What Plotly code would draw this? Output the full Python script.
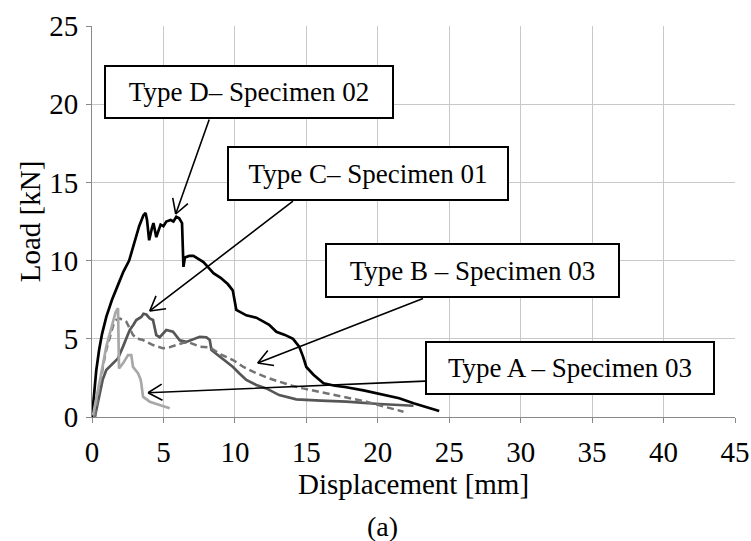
import math
import plotly.graph_objects as go

# ---------------- data ----------------
d_x = [0, 0.15, 0.3, 0.5, 0.7, 1.0, 1.4, 1.8, 2.2, 2.6, 3.0, 3.3, 3.6, 3.75, 3.85, 4.0, 4.2, 4.3, 4.5, 4.7, 4.8,
       5.0, 5.2, 5.5, 5.7, 5.9, 6.1, 6.3, 6.35, 6.4, 6.5, 6.8, 7.1, 7.5, 7.8, 8.2, 8.5, 9.0, 9.5, 9.85, 9.95,
       10.1, 10.8, 11.5, 12.0, 12.4, 12.9, 13.5, 14.07, 14.5, 14.77, 15.0, 15.5, 16.2, 17.0, 17.8, 19.0, 20.1,
       21.0, 21.5, 22.5, 23.5, 24.3]
d_y = [0, 1.5, 3.0, 4.3, 5.3, 6.4, 7.5, 8.4, 9.3, 10.0, 11.2, 12.2, 12.9, 13.05, 12.6, 11.3, 12.1, 12.4, 11.5, 12.0, 12.3,
       12.2, 12.5, 12.6, 12.5, 12.8, 12.7, 12.4, 11.0, 9.6, 10.2, 10.3, 10.3, 10.1, 9.9, 9.5, 9.2, 8.9, 8.5, 8.1, 7.5,
       6.85, 6.5, 6.35, 6.1, 5.9, 5.45, 5.25, 5.0, 4.5, 3.86, 3.2, 2.7, 2.15, 2.0, 1.9, 1.7, 1.5,
       1.3, 1.2, 0.88, 0.6, 0.38]

c_x = [0.2, 0.35, 0.54, 0.75, 1.0, 1.47, 1.82, 2.17, 2.4, 2.64, 2.9, 3.1, 3.45, 3.6, 3.8, 4.04, 4.27, 4.5, 4.74,
       5.0, 5.2, 5.67, 6.14, 6.6, 7.0, 7.54, 8.0, 8.24, 8.36, 8.94, 9.4, 9.87, 10.3, 10.8, 11.5, 12.2, 13.1, 14.3,
       16.0, 17.8, 20.1, 22.5]
c_y = [0, 0.7, 1.5, 2.4, 3.0, 3.4, 3.75, 4.5, 5.0, 5.56, 5.9, 6.2, 6.4, 6.6, 6.55, 6.3, 6.2, 5.24, 5.1,
       5.4, 5.56, 5.45, 4.9, 4.8, 4.95, 5.13, 5.1, 4.92, 4.28, 3.86, 3.5, 3.2, 2.8, 2.37, 2.05, 1.83, 1.4, 1.13,
       1.05, 0.98, 0.83, 0.72]

b_x = [0.2, 0.4, 0.6, 0.8, 1.0, 1.3, 1.5, 1.7, 1.94, 2.4, 2.87, 3.2, 3.57, 4.27, 4.97, 5.4, 5.9, 6.4, 6.84, 7.54,
       8.24, 9.0, 9.87, 10.6, 11.5, 12.3, 13.1, 14.0, 14.77, 15.7, 16.6, 18.0, 19.2, 20.5, 21.8]
b_y = [0, 1.2, 2.4, 3.4, 4.3, 5.3, 5.9, 6.2, 6.3, 6.1, 5.24, 5.0, 4.92, 4.6, 4.39, 4.45, 4.6, 4.75, 4.75, 4.5,
       4.45, 4.0, 3.64, 3.2, 2.8, 2.5, 2.26, 2.0, 1.83, 1.65, 1.5, 1.25, 0.98, 0.65, 0.34]

a_x = [0.07, 0.3, 0.54, 0.8, 1.0, 1.25, 1.47, 1.65, 1.82, 1.87, 1.89, 2.17, 2.4, 2.52, 2.75, 2.87, 3.22, 3.4,
       3.45, 3.57, 4.04, 4.74, 5.44]
a_y = [0.1, 1.1, 2.15, 3.5, 4.5, 5.4, 6.2, 6.7, 6.95, 5.0, 3.1, 3.43, 3.8, 3.96, 3.96, 3.2, 2.8, 2.4,
       2.15, 1.3, 0.98, 0.77, 0.56]

# callout labels and the points they refer to (data units)
labels = ["Type D– Specimen 02", "Type C– Specimen 01", "Type B – Specimen 03", "Type A – Specimen 03"]
tip_x = [5.86, 4.04, 11.6, 3.92]
tip_y = [12.98, 6.78, 3.45, 1.55]

x_ticks = [0, 5, 10, 15, 20, 25, 30, 35, 40, 45]
y_ticks = [0, 5, 10, 15, 20, 25]

# ---------------- layout helpers ----------------
W, H = 751, 541
M = dict(l=92, r=16, t=26, b=124)
X_RANGE = [0, 45]
Y_RANGE = [0, 25]
box_cx = [10.97, 19.29, 26.6, 33.43]
box_cy = [20.78, 15.57, 9.37, 3.13]
box_w = [288, 280, 293, 288]
box_h = [52, 53, 53, 52]
tail_x = [8.24, 14.17, 23.27, 23.42]
tail_y = [19.12, 13.87, 7.61, 2.30]

FONT = "Liberation Serif"

px_per_x = (W - M["l"] - M["r"]) / (X_RANGE[1] - X_RANGE[0])
px_per_y = (H - M["t"] - M["b"]) / (Y_RANGE[1] - Y_RANGE[0])

fig = go.Figure()
fig.add_trace(go.Scatter(x=d_x, y=d_y, mode="lines", line=dict(color="#000000", width=2.7), name="Type D"))
fig.add_trace(go.Scatter(x=c_x, y=c_y, mode="lines", line=dict(color="#565656", width=2.7), name="Type C"))
fig.add_trace(go.Scatter(x=b_x, y=b_y, mode="lines", line=dict(color="#737373", width=2.5, dash="7px,4px"), name="Type B"))
fig.add_trace(go.Scatter(x=a_x, y=a_y, mode="lines", line=dict(color="#a8a8a8", width=2.7), name="Type A"))

annotations = []
ARM_LEN = 18
ARM_ANG = math.radians(30)
for i in range(len(labels)):
    # shaft
    annotations.append(dict(
        x=tip_x[i], y=tip_y[i], xref="x", yref="y",
        ax=tail_x[i], ay=tail_y[i], axref="x", ayref="y",
        text="", showarrow=True, arrowhead=0, arrowwidth=1.6,
        arrowcolor="#000000", standoff=0, startstandoff=0))
    # open arrow head (two arms) in screen pixels
    dx = (tail_x[i] - tip_x[i]) * px_per_x
    dy = -(tail_y[i] - tip_y[i]) * px_per_y
    ang = math.atan2(dy, dx)
    for s in (-1, 1):
        a = ang + s * ARM_ANG
        annotations.append(dict(
            x=tip_x[i], y=tip_y[i], xref="x", yref="y",
            ax=ARM_LEN * math.cos(a), ay=ARM_LEN * math.sin(a),
            text="", showarrow=True, arrowhead=0, arrowwidth=1.6,
            arrowcolor="#000000", standoff=0, startstandoff=0))
for i in range(len(labels)):
    annotations.append(dict(
        x=box_cx[i], y=box_cy[i], xref="x", yref="y",
        text=labels[i], showarrow=False,
        font=dict(family=FONT, size=27, color="#000000"),
        bgcolor="#ffffff", bordercolor="#000000", borderwidth=2, borderpad=0,
        width=box_w[i] - 2, height=box_h[i] - 2, align="center", valign="middle"))
annotations.append(dict(
    x=0.452, y=-0.281, xref="paper", yref="paper", text="(a)", showarrow=False,
    font=dict(family=FONT, size=28, color="#000000"), yanchor="middle"))

fig.update_layout(
    width=W, height=H,
    margin=M,
    paper_bgcolor="#ffffff", plot_bgcolor="#ffffff",
    showlegend=False,
    font=dict(family=FONT, size=28, color="#000000"),
    annotations=annotations,
)
fig.update_xaxes(
    range=X_RANGE, tickvals=x_ticks, ticktext=[str(v) for v in x_ticks],
    automargin=False,
    showgrid=True, gridcolor="#c8c8c8", gridwidth=1,
    showline=True, linecolor="#888888", linewidth=1,
    ticks="outside", ticklen=5, tickcolor="#888888", ticklabelstandoff=4,
    tickfont=dict(family=FONT, size=29), zeroline=False,
    title=dict(text="Displacement [mm]", font=dict(family=FONT, size=29), standoff=6),
)
fig.update_yaxes(
    range=Y_RANGE, tickvals=y_ticks, ticktext=[str(v) for v in y_ticks],
    automargin=False,
    showgrid=True, gridcolor="#c8c8c8", gridwidth=1,
    showline=True, linecolor="#888888", linewidth=1,
    ticks="outside", ticklen=5, tickcolor="#888888", ticklabelstandoff=2,
    tickfont=dict(family=FONT, size=29), zeroline=False,
    title=dict(text="Load [kN]", font=dict(family=FONT, size=29), standoff=0),
)

fig.write_html("out.html")
